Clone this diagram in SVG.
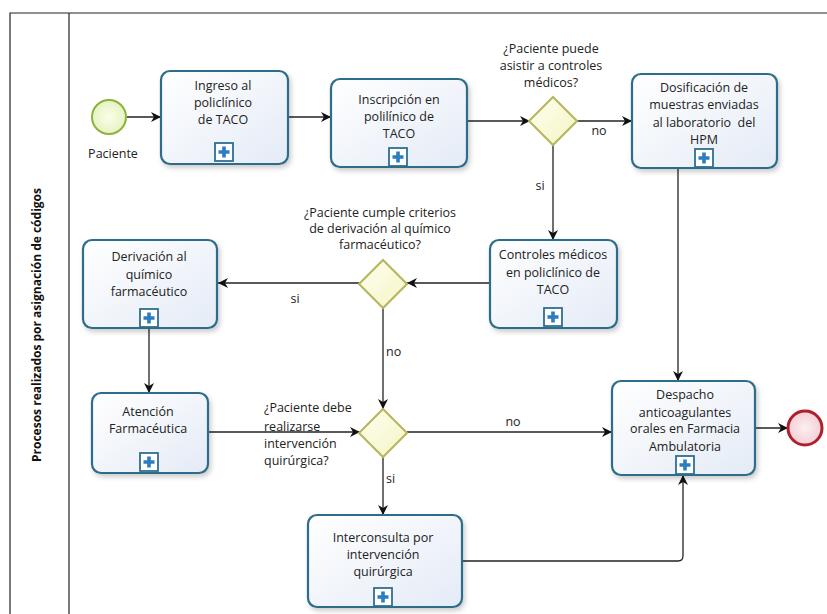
<svg xmlns="http://www.w3.org/2000/svg" width="827" height="614" viewBox="0 0 827 614">
<defs>
<style>
.pool{stroke:#222;stroke-width:1.2;fill:none}
.task{fill:url(#tg);stroke:#2d6c8c;stroke-width:2.2;filter:url(#sh)}
.mk{fill:#fff;stroke:#2f6f8f;stroke-width:1.8}
.plus{fill:#2b7cc0}
.gw{fill:url(#gg);stroke:#b5b55a;stroke-width:2}
.t{font-family:"Open Sans","Noto Sans",sans-serif;font-size:12.5px;fill:#222;text-anchor:middle}
.tl{font-family:"Open Sans","Noto Sans",sans-serif;font-size:12.5px;fill:#222}
.c{fill:none;stroke:#222;stroke-width:1.3;marker-end:url(#ar)}
.pl{font-family:"Open Sans","Noto Sans",sans-serif;font-size:12px;font-weight:bold;fill:#111;text-anchor:middle}
</style>
<linearGradient id="tg" x1="0" y1="0" x2="1" y2="1"><stop offset="0" stop-color="#ffffff"/><stop offset="1" stop-color="#e4ebf6"/></linearGradient>
<linearGradient id="gg" x1="0" y1="0" x2="1" y2="1"><stop offset="0" stop-color="#fffff2"/><stop offset="1" stop-color="#f4f4c4"/></linearGradient>
<radialGradient id="sg"><stop offset="0" stop-color="#fbfde8"/><stop offset="1" stop-color="#e6f2c4"/></radialGradient>
<radialGradient id="eg"><stop offset="0" stop-color="#fdf0f2"/><stop offset="1" stop-color="#f3cfd6"/></radialGradient>
<filter id="sh" x="-20%" y="-20%" width="140%" height="140%"><feDropShadow dx="2" dy="3" stdDeviation="2.5" flood-color="#000" flood-opacity="0.2"/></filter>
<marker id="ar" viewBox="0 0 10 10" refX="10" refY="5" markerWidth="10" markerHeight="10" markerUnits="userSpaceOnUse" orient="auto"><path d="M0,0 L10,5 L0,10 L3,5 z" fill="#111"/></marker>
<g id="pm"><rect class="mk" x="-9" y="-9" width="18" height="18"/><path class="plus" d="M-1.8,-5.5 H1.8 V-1.8 H5.5 V1.8 H1.8 V5.5 H-1.8 V1.8 H-5.5 V-1.8 H-1.8 z"/></g>
</defs>
<rect width="827" height="614" fill="#fff"/>
<g id="pool">
<path class="pool" d="M10,614 V13 H827 M69,13 V614"/>
<text class="pl" transform="translate(41,325) rotate(-90)">Procesos realizados por asignación de códigos</text>
</g>
<g id="connectors">
<path class="c" d="M127,117 L161,117"/>
<path class="c" d="M288,117 L331,117"/>
<path class="c" d="M467,121 L530,121"/>
<path class="c" d="M576,121 L632,121"/>
<path class="c" d="M553,145 L553,240"/>
<path class="c" d="M678,168 L678,381"/>
<path class="c" d="M490,283 L407,283"/>
<path class="c" d="M359,283 L218,283"/>
<path class="c" d="M149,328 L149,393"/>
<path class="c" d="M383,308 L383,409"/>
<path class="c" d="M208,432 L360,432"/>
<path class="c" d="M407,432 L612,432"/>
<path class="c" d="M383,456 L383,515"/>
<path class="c" d="M462,561 L678,561 Q683,561 683,556 L683,475"/>
<path class="c" d="M755,428 L788,428"/>
<text class="t" x="599" y="135">no</text>
<text class="t" x="540" y="190">si</text>
<text class="t" x="295" y="303">si</text>
<text class="tl" x="386" y="356">no</text>
<text class="t" x="513" y="426">no</text>
<text class="tl" x="386" y="483">si</text>
</g>
<g id="start">
<circle cx="109" cy="117" r="17" fill="url(#sg)" stroke="#8db33a" stroke-width="2"/>
<text class="t" x="113" y="158">Paciente</text>
</g>
<g id="t1">
<rect class="task" x="161" y="71" width="127" height="93" rx="9"/>
<text class="t" x="223" y="90">Ingreso al</text>
<text class="t" x="223" y="107">policlínico</text>
<text class="t" x="223" y="124">de TACO</text>
<use href="#pm" x="224" y="152"/>
</g>
<g id="t2">
<rect class="task" x="331" y="79" width="136" height="88" rx="9"/>
<text class="t" x="399" y="104">Inscripción en</text>
<text class="t" x="399" y="121">polilínico de</text>
<text class="t" x="399" y="138">TACO</text>
<use href="#pm" x="398" y="157"/>
</g>
<g id="g1">
<path class="gw" d="M553,97 L577,121 L553,145 L529,121 z"/>
<text class="t" x="551" y="53">¿Paciente puede</text>
<text class="t" x="551" y="70">asistir a controles</text>
<text class="t" x="551" y="87">médicos?</text>
</g>
<g id="t3">
<rect class="task" x="632" y="74" width="145" height="94" rx="9"/>
<text class="t" x="704" y="92">Dosificación de</text>
<text class="t" x="704" y="109">muestras enviadas</text>
<text class="t" x="704" y="127" style="white-space:pre">al laboratorio  del</text>
<text class="t" x="704" y="144">HPM</text>
<use href="#pm" x="704" y="158"/>
</g>
<g id="t4">
<rect class="task" x="490" y="240" width="127" height="88" rx="9"/>
<text class="t" x="553" y="259">Controles médicos</text>
<text class="t" x="553" y="277">en policlínico de</text>
<text class="t" x="553" y="294">TACO</text>
<use href="#pm" x="553" y="317"/>
</g>
<g id="g2">
<path class="gw" d="M383,260 L407,284 L383,308 L359,284 z"/>
<text class="t" x="380" y="217">¿Paciente cumple criterios</text>
<text class="t" x="380" y="233">de derivación al químico</text>
<text class="t" x="380" y="249">farmacéutico?</text>
</g>
<g id="t5">
<rect class="task" x="83" y="240" width="134" height="88" rx="9"/>
<text class="t" x="149" y="261">Derivación al</text>
<text class="t" x="149" y="279">químico</text>
<text class="t" x="149" y="296">farmacéutico</text>
<use href="#pm" x="149" y="318"/>
</g>
<g id="t6">
<rect class="task" x="92" y="393" width="116" height="80" rx="9"/>
<text class="t" x="148" y="416">Atención</text>
<text class="t" x="148" y="433">Farmacéutica</text>
<use href="#pm" x="149" y="462"/>
</g>
<g id="g3">
<path class="gw" d="M383,409 L407,433 L383,457 L359,433 z"/>
<text class="tl" x="264" y="412">¿Paciente debe</text>
<text class="tl" x="264" y="431">realizarse</text>
<text class="tl" x="264" y="448">intervención</text>
<text class="tl" x="264" y="465">quirúrgica?</text>
</g>
<g id="t7">
<rect class="task" x="308" y="515" width="154" height="92" rx="9"/>
<text class="t" x="383" y="542">Interconsulta por</text>
<text class="t" x="383" y="559">intervención</text>
<text class="t" x="383" y="576">quirúrgica</text>
<use href="#pm" x="383" y="597"/>
</g>
<g id="t8">
<rect class="task" x="612" y="381" width="143" height="94" rx="9"/>
<text class="t" x="685" y="399">Despacho</text>
<text class="t" x="685" y="417">anticoagulantes</text>
<text class="t" x="685" y="433">orales en Farmacia</text>
<text class="t" x="685" y="451">Ambulatoria</text>
<use href="#pm" x="685" y="465"/>
</g>
<g id="end">
<circle cx="805" cy="428" r="17" fill="url(#eg)" stroke="#b0202c" stroke-width="3"/>
</g>
</svg>
